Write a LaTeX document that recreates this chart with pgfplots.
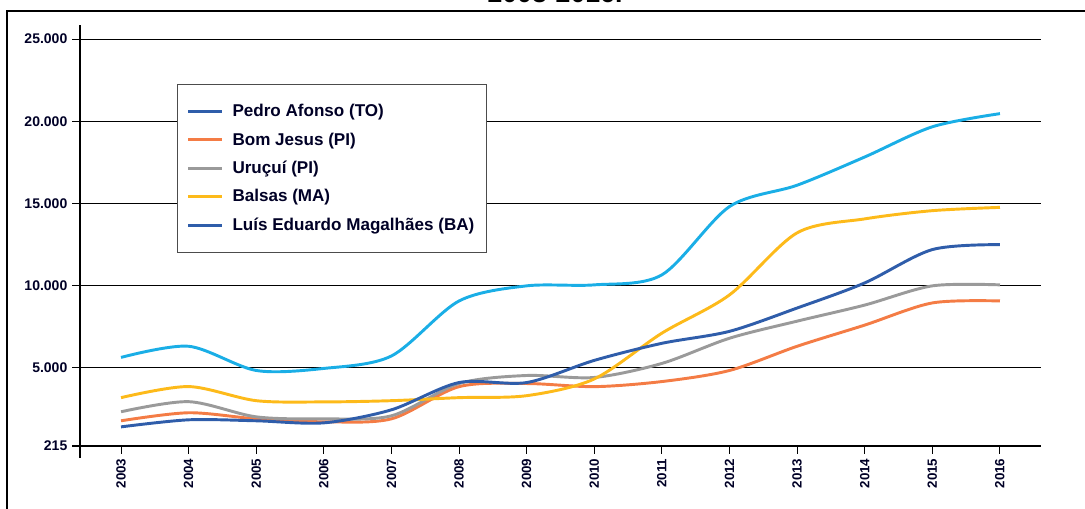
\documentclass[border=0pt]{standalone}
\usepackage{pgfplots}
\pgfplotsset{compat=1.18}
\usepackage{fontspec}
\setmainfont{Liberation Sans}
\definecolor{cPA}{HTML}{1AAEE6}
\definecolor{cBJ}{HTML}{F47C45}
\definecolor{cUR}{HTML}{9A9A9A}
\definecolor{cBA}{HTML}{FDBA1A}
\definecolor{cLE}{HTML}{2F5DAA}
\begin{document}
\begin{tikzpicture}
\useasboundingbox (0pt,0pt) rectangle (813.75pt,381.75pt);
\node[anchor=base,font=\bfseries\fontsize{20}{24}\selectfont] at (416.25pt,379.5pt) {2003-2016.};
\draw[line width=1.5pt] (5.25pt,-22pt) -- (5.25pt,373.5pt) -- (840pt,373.5pt);
\begin{axis}[
  at={(60pt,47.25pt)}, anchor=south west,
  scale only axis, width=720.75pt, height=315.75pt,
  xmin=2002.393, xmax=2016.607,
  ymin=215, ymax=25860,
  axis x line=bottom, axis y line=left,
  axis line style={-, line width=2pt},
  y axis line style={shorten <=-9pt},
  scaled y ticks=false,
  xtick={2003,...,2016},
  xticklabel style={rotate=90, anchor=east, font=\bfseries\fontsize{10}{12}\selectfont, color=black!85!blue},
  xticklabels={2003,2004,2005,2006,2007,2008,2009,2010,2011,2012,2013,2014,2015,2016},
  ytick={215,5000,10000,15000,20000,25000},
  yticklabels={215,5.000,10.000,15.000,20.000,25.000},
  yticklabel style={font=\bfseries\fontsize{10.5}{12}\selectfont, color=black!85!blue},
  tick align=outside, major tick length=6pt,
  tick style={black, line width=0.8pt},
  ymajorgrids, grid style={black, line width=0.8pt},
  legend style={at={(0.101,0.860)}, anchor=north west, draw=black!70, line width=0.6pt,
    font=\bfseries\fontsize{12.8}{15}\selectfont, inner xsep=7pt, inner ysep=13pt,
    row sep=6.5pt, cells={anchor=west}, text=black!85!blue},
  legend image code/.code={\draw[#1, line width=2.4pt] (0pt,0pt) -- (25pt,0pt); \path (30pt,0pt);},
  every axis plot/.append style={line width=2.2pt, smooth, tension=0.5},
]
\addplot[cPA, forget plot] coordinates {(2003,5610) (2004,6290) (2005,4815) (2006,4940) (2007,5700) (2008,9050) (2009,9970) (2010,10030) (2011,10640) (2012,14800) (2013,16100) (2014,17820) (2015,19660) (2016,20460)};
\addlegendimage{cLE}
\addlegendentry{Pedro Afonso (TO)}
\addplot[cBJ] coordinates {(2003,1750) (2004,2240) (2005,1870) (2006,1690) (2007,1870) (2008,3830) (2009,4020) (2010,3830) (2011,4140) (2012,4815) (2013,6290) (2014,7580) (2015,8930) (2016,9050)};
\addlegendentry{Bom Jesus (PI)}
\addplot[cUR] coordinates {(2003,2300) (2004,2915) (2005,1990) (2006,1870) (2007,2055) (2008,4020) (2009,4510) (2010,4390) (2011,5245) (2012,6780) (2013,7820) (2014,8800) (2015,9970) (2016,10030)};
\addlegendentry{Uruçuí (PI)}
\addplot[cBA] coordinates {(2003,3160) (2004,3835) (2005,2975) (2006,2900) (2007,2975) (2008,3160) (2009,3280) (2010,4300) (2011,7090) (2012,9420) (2013,13200) (2014,14050) (2015,14550) (2016,14750)};
\addlegendentry{Balsas (MA)}
\addplot[cLE] coordinates {(2003,1380) (2004,1810) (2005,1750) (2006,1625) (2007,2420) (2008,4080) (2009,4080) (2010,5430) (2011,6470) (2012,7200) (2013,8620) (2014,10150) (2015,12180) (2016,12480)};
\addlegendentry{Luís Eduardo Magalhães (BA)}
\end{axis}
\end{tikzpicture}
\end{document}
